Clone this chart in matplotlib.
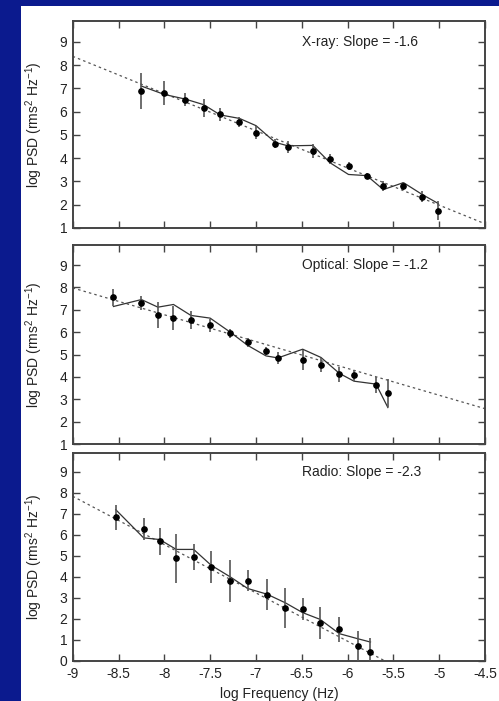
import matplotlib
matplotlib.use("Agg")
import matplotlib.pyplot as plt
import numpy as np
from matplotlib.patches import Rectangle

plt.rcParams['font.family'] = ['Liberation Sans', 'DejaVu Sans']
plt.rcParams['mathtext.fontset'] = 'custom'
plt.rcParams['mathtext.rm'] = 'Liberation Sans'
plt.rcParams['mathtext.it'] = 'Liberation Sans:italic'
plt.rcParams['axes.unicode_minus'] = False

# X-ray
xray_f = [-8.25, -8.0, -7.77, -7.57, -7.39, -7.18, -7.0, -6.79, -6.65, -6.38,
          -6.19, -5.99, -5.79, -5.61, -5.39, -5.19, -5.01]
xray_psd = [6.88, 6.8, 6.52, 6.15, 5.88, 5.55, 5.1, 4.62, 4.47, 4.3,
            3.98, 3.65, 3.25, 2.8, 2.8, 2.35, 1.75]
xray_err = [0.78, 0.5, 0.28, 0.38, 0.28, 0.2, 0.28, 0.2, 0.25, 0.3,
            0.22, 0.17, 0.12, 0.2, 0.18, 0.23, 0.4]
xray_sim = [7.1, 6.74, 6.54, 6.3, 5.86, 5.71, 5.4, 4.68, 4.53, 4.55,
            3.8, 3.3, 3.25, 2.65, 2.95, 2.45, 2.05]
xray_fit = (8.38, -1.6)

# Optical
opt_f = [-8.555, -8.25, -8.07, -7.9, -7.71, -7.5, -7.28, -7.09, -6.89, -6.76,
         -6.49, -6.29, -6.09, -5.93, -5.69, -5.56]
opt_psd = [7.56, 7.3, 6.78, 6.64, 6.53, 6.3, 5.96, 5.56, 5.16, 4.85,
           4.75, 4.53, 4.11, 4.08, 3.64, 3.27]
opt_err = [0.39, 0.32, 0.59, 0.52, 0.4, 0.28, 0.2, 0.2, 0.18, 0.25,
           0.46, 0.3, 0.35, 0.24, 0.37, 0.62]
opt_sim = [7.15, 7.46, 7.12, 7.24, 6.75, 6.63, 6.0, 5.41, 4.94, 4.85,
           5.24, 4.87, 4.16, 3.81, 3.68, 2.63]
opt_fit = (7.98, -1.2)

# Radio
radio_f = [-8.53, -8.226, -8.05, -7.87, -7.68, -7.49, -7.28, -7.09, -6.88, -6.68,
           -6.49, -6.3, -6.09, -5.89, -5.75]
radio_psd = [6.83, 6.27, 5.69, 4.88, 4.96, 4.48, 3.8, 3.82, 3.15, 2.52,
             2.49, 1.81, 1.51, 0.71, 0.44]
radio_err = [0.58, 0.52, 0.66, 1.16, 0.63, 0.75, 1.0, 0.5, 0.74, 0.97,
             0.52, 0.75, 0.6, 0.74, 0.63]
radio_sim = [7.2, 5.86, 5.78, 5.31, 5.31, 4.56, 4.0, 3.45, 3.18, 2.77,
             2.3, 1.98, 1.3, 1.06, 0.9]
radio_fit = (7.84, -2.3)

x_ticks = [-9, -8.5, -8, -7.5, -7, -6.5, -6, -5.5, -5, -4.5]
x_ticklabels = ['-9', '-8.5', '-8', '-7.5', '-7', '-6.5', '-6', '-5.5', '-5', '-4.5']

panels = [
    ("X-ray: Slope = -1.6", xray_f, xray_psd, xray_err, xray_sim, xray_fit, (1, 9.9), range(1, 10)),
    ("Optical: Slope = -1.2", opt_f, opt_psd, opt_err, opt_sim, opt_fit, (1, 9.9), range(1, 10)),
    ("Radio: Slope = -2.3", radio_f, radio_psd, radio_err, radio_sim, radio_fit, (0, 9.9), range(0, 10)),
]

# axes boxes in figure fractions [left, bottom, width, height]
boxes = [
    [0.1457, 0.6748, 0.8263, 0.2953],
    [0.1457, 0.3666, 0.8263, 0.2839],
    [0.1457, 0.0571, 0.8263, 0.2967],
]

fig = plt.figure(figsize=(4.99, 7.01), dpi=100, facecolor='#0b1a8e')
fig.patches.append(Rectangle((21 / 499, 0), 1, 1 - 6 / 701, transform=fig.transFigure,
                             facecolor='white', edgecolor='none', zorder=-10))

axis_col = '#444444'
for i, (label, f, psd, err, sim, fit, ylim, yt) in enumerate(panels):
    ax = fig.add_axes(boxes[i])
    ax.set_facecolor('white')

    fx = np.array([-9, -4.5])
    ax.plot(fx, fit[0] + fit[1] * (fx + 9), color='#555555', lw=0.9,
            linestyle=(0, (2, 2.5)), zorder=2)
    ax.plot(f, sim, color='#333333', lw=0.9, zorder=3)
    ax.errorbar(f, psd, yerr=err, fmt='o', color='black', ms=3.8,
                ecolor='#555555', elinewidth=1.2, capsize=0, zorder=4)

    ax.text(-6.5, 9, label, fontsize=10, ha='left', va='center', color='#222222')

    ax.set_xlim(-9, -4.5)
    ax.set_ylim(*ylim)
    ax.set_xticks(x_ticks)
    ax.set_yticks(list(yt))
    ax.set_yticklabels([str(v) for v in yt])
    ax.tick_params(direction='in', length=5, width=1, top=True, right=True,
                   colors=axis_col, labelcolor='#222222', labelsize=10, pad=4)
    for s in ax.spines.values():
        s.set_color(axis_col)
        s.set_linewidth(1.4)
    ax.set_ylabel(r'log PSD (rms$^2$ Hz$^{-1}$)', fontsize=10, color='#222222', labelpad=10)
    if i == 2:
        ax.set_xticklabels(x_ticklabels)
        ax.set_xlabel('log Frequency (Hz)', fontsize=10, color='#222222', labelpad=5)
    else:
        ax.set_xticklabels([])

fig.savefig('out.png', dpi=100, facecolor=fig.get_facecolor())
